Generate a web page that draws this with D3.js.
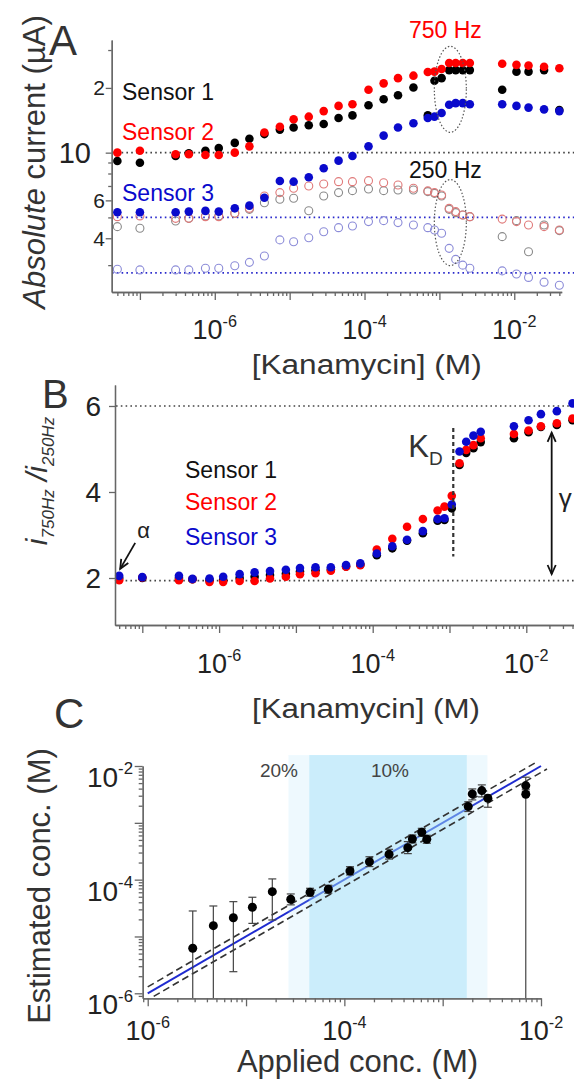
<!DOCTYPE html>
<html>
<head>
<meta charset="utf-8">
<script src="https://cdn.jsdelivr.net/npm/d3@7"></script>
<style>
body { margin: 0; background: #fff; }
svg { display: block; font-family: "Liberation Sans", Arial, sans-serif; }
.ax path, .ax line { stroke: #666; stroke-width: 1.3; }
</style>
</head>
<body>
<div id="fig"></div>
<script>
// kanamycin concentrations (M) used in panels A and B
var conc = [5e-8, 1e-7, 3e-7, 4.5e-7, 7.5e-7, 1.13e-6, 1.85e-6, 2.9e-6, 4.6e-6, 7.4e-6, 1.13e-5,
	1.8e-5, 2.85e-5, 4.5e-5, 6.9e-5, 1.13e-4, 1.8e-4, 2.8e-4, 4.5e-4, 7e-4, 8.6e-4, 1.07e-3,
	1.35e-3, 1.65e-3, 2.05e-3, 2.55e-3, 6.9e-3, 1.07e-2, 1.55e-2, 2.5e-2, 4.0e-2];

// panel A: absolute current (uA) at 750 Hz (filled) and 250 Hz (open)
var s1_750 = [9.15, 8.98, 9.65, 9.94, 10.2, 10.5, 11.1, 11.6, 12.2, 12.8, 13.1, 13.4, 13.6, 14.5, 14.9, 16.6,
	17.7, 18.5, 20.1, 14.9, 21.6, 22.2, 24.2, 24.2, 24.2, 24.2, 19.6, 23.8, 23.8, 24.2, 15.8];
var s2_750 = [10.0, 10.2, 9.83, 9.83, 9.76, 9.76, 10.0, 10.7, 12.4, 13.2, 14.3, 14.7, 15.6, 16.5, 16.8, 19.6,
	21.0, 22.2, 22.8, 23.7, 23.8, 24.5, 26.1, 26.1, 26.1, 26.1, 25.9, 25.6, 25.4, 25.1, 24.7];
var s3_750 = [5.28, 5.28, 5.28, 5.32, 5.36, 5.32, 5.51, 5.67, 6.17, 7.38, 7.33, 7.68, 8.46, 9.18, 9.65, 10.7,
	12.0, 13.1, 13.7, 14.5, 14.7, 15.3, 16.7, 17.0, 17.0, 16.8, 16.8, 16.5, 16.2, 15.9, 15.6];
var s1_250 = [4.53, 4.45, 4.81, 4.95, 5.08, 5.08, 5.23, 5.45, 5.85, 6.07, 6.14, 5.37, 6.29, 6.52, 6.66, 6.78,
	6.66, 6.71, 6.71, 6.59, 6.47, 6.29, 5.45, 5.26, 5.13, 5.04, 4.07, 4.83, 3.46, 4.61, 4.34];
var s2_250 = [5.04, 5.08, 4.95, 4.95, 5.04, 5.04, 5.23, 5.51, 6.29, 6.52, 6.83, 7.00, 7.15, 7.33, 7.33, 7.41,
	7.25, 7.07, 6.83, 6.64, 6.52, 6.36, 5.51, 5.32, 5.13, 5.04, 4.91, 4.78, 4.61, 4.53, 4.37];
var s3_250 = [2.87, 2.85, 2.85, 2.85, 2.90, 2.90, 2.98, 3.09, 3.31, 3.93, 3.85, 4.02, 4.29, 4.48, 4.56, 4.78,
	4.83, 4.73, 4.61, 4.48, 4.37, 4.22, 3.59, 3.19, 3.00, 2.90, 2.82, 2.73, 2.63, 2.50, 2.42];
var aRefLines = [10, 5.0, 2.76];

// panel B: ratio i750 / i250
var r1 = [2.0, 2.0, 2.0, 1.97, 1.95, 1.96, 2.0, 2.03, 2.07, 2.1, 2.15, 2.18, 2.2, 2.27, 2.31, 2.53,
	2.69, 2.87, 3.04, 3.33, 3.35, 3.62, 4.63, 4.91, 5.02, 5.16, 5.25, 5.39, 5.51, 5.56, 5.67];
var r2 = [1.95, 2.01, 1.95, 1.97, 1.91, 1.91, 1.93, 1.93, 1.99, 2.03, 2.09, 2.11, 2.17, 2.26, 2.30, 2.66,
	2.91, 3.19, 3.37, 3.57, 3.66, 3.91, 4.67, 4.98, 5.09, 5.25, 5.35, 5.43, 5.53, 5.60, 5.71];
var r3 = [2.05, 2.02, 2.05, 1.98, 1.99, 2.03, 2.09, 2.13, 2.16, 2.19, 2.23, 2.25, 2.25, 2.30, 2.34, 2.57,
	2.74, 2.89, 3.09, 3.37, 3.39, 3.71, 4.94, 5.17, 5.31, 5.40, 5.53, 5.67, 5.81, 5.88, 6.06];
var bRefLines = [6, 1.94];
var kd = 1.12e-3;

// panel C: applied vs estimated concentration (M)
var applied = [2.87e-6, 4.65e-6, 7.43e-6, 1.16e-5, 1.85e-5, 2.85e-5, 4.48e-5, 6.87e-5, 1.14e-4, 1.80e-4, 2.85e-4,
	4.42e-4, 4.92e-4, 6.13e-4, 6.89e-4, 1.82e-3, 2.0e-3, 2.5e-3, 2.88e-3, 7.0e-3, 7.0e-3];
var estimated = [6.2e-6, 1.55e-5, 2.14e-5, 3.27e-5, 6.15e-5, 4.52e-5, 6.0e-5, 6.78e-5, 1.42e-4, 2.07e-4, 2.80e-4,
	3.66e-4, 5.2e-4, 6.82e-4, 5.14e-4, 1.93e-3, 3.23e-3, 3.69e-3, 2.71e-3, 4.52e-3, 3.19e-3];
var errHi = [2.81e-5, 3.44e-5, 4.1e-5, 4.9e-5, 1.03e-4, 5.6e-5, 7.05e-5, 7.97e-5, 1.69e-4, 2.53e-4, 3.42e-4,
	4.67e-4, 6.1e-4, 8.0e-4, 6.04e-4, 2.35e-3, 3.95e-3, 4.65e-3, 3.1e-3, 6.35e-3, 3.6e-3];
var errLo = [5e-7, 5e-7, 2.4e-6, 1.7e-5, 1.95e-5, 3.6e-5, 5.1e-5, 5.77e-5, 1.21e-4, 1.7e-4, 2.3e-4,
	2.87e-4, 4.43e-4, 5.8e-4, 4.37e-4, 1.58e-3, 2.53e-3, 2.86e-3, 1.88e-3, 3.9e-3, 5e-7];
var band20 = [2.7e-5, 2.85e-3];
var band10 = [4.4e-5, 1.76e-3];
var fitRange = [1e-6, 1e-2];
var fitFactor = 1.3;

var BLACK = "#000", RED = "#ff0000", BLUE = "#0a0acc";
var svg = d3.select("#fig").append("svg").attr("width", 574).attr("height", 1083);

// scales
var xA = d3.scaleLog().domain([4.2e-8, 4.3e-2]).range([111.7, 561.7]);
var yA = d3.scaleLog().domain([2.25, 33.4]).range([292, 40]);
var xB = d3.scaleLog().domain([4.41e-8, 4.18e-2]).range([115, 574]);
var yB = d3.scaleLinear().domain([0.907, 6.488]).range([625, 385]);
var xC = d3.scaleLog().domain([Math.pow(10, -6.051), 1e-2]).range([142.7, 541]);
var yC = d3.scaleLog().domain([Math.pow(10, -6.088), 1e-2]).range([998.3, 766]);

function isDecade(v) { return Math.abs(Math.log10(v) - Math.round(Math.log10(v))) < 1e-6; }

// draw an axis with long and short ticks
function ticks(scale, orient, pos, majors, minors, majLen, minLen) {
	var mk = orient === "bottom" ? d3.axisBottom : d3.axisLeft;
	var g = svg.append("g").attr("class", "ax")
		.attr("transform", orient === "bottom" ? "translate(0," + pos + ")" : "translate(" + pos + ",0)");
	g.append("g").call(mk(scale).tickValues(minors).tickSize(minLen).tickSizeOuter(0).tickFormat(""));
	g.append("g").call(mk(scale).tickValues(majors).tickSize(majLen).tickSizeOuter(0).tickFormat(""));
}
function logTicks(scale, orient, pos) {
	var all = scale.ticks();
	ticks(scale, orient, pos, all.filter(isDecade), all.filter(function(v){ return !isDecade(v); }), 8, 4);
}

// 10^n labels
function powLabel(x, y, exp, anchor, size) {
	var t = svg.append("text").attr("x", x).attr("y", y).attr("text-anchor", anchor)
		.style("font-size", size + "px").style("fill", "#222");
	t.append("tspan").text("10");
	t.append("tspan").attr("dy", -size * 0.45).style("font-size", (size * 0.6) + "px").text("-" + exp);
}

function dots(xs, ys, xs_, ys_, color, open) {
	svg.append("g").selectAll("circle")
		.data(d3.zip(xs, ys))
		.join("circle")
		.attr("cx", function(d){ return xs_(d[0]); })
		.attr("cy", function(d){ return ys_(d[1]); })
		.attr("r", open ? 4.0 : 4.3)
		.attr("fill", open ? "none" : color)
		.attr("stroke", open ? color : "none")
		.attr("stroke-width", 1.1);
}

function hline(y, x1, x2, color) {
	svg.append("line").attr("x1", x1).attr("x2", x2).attr("y1", y).attr("y2", y)
		.attr("stroke", color).attr("stroke-width", 1.6).attr("stroke-dasharray", "1.6,3.2");
}

function txt(x, y, s, size, color, anchor) {
	return svg.append("text").attr("x", x).attr("y", y).text(s)
		.attr("text-anchor", anchor || "start")
		.style("font-size", size + "px").style("fill", color || "#222");
}

// arrow with V heads
function arrow(x1, y1, x2, y2, both) {
	svg.append("line").attr("x1", x1).attr("y1", y1).attr("x2", x2).attr("y2", y2)
		.attr("stroke", "#111").attr("stroke-width", 1.8);
	function head(xa, ya, xb, yb) {
		var a = Math.atan2(yb - ya, xb - xa), L = 10, w = 0.42;
		svg.append("path")
			.attr("d", "M" + (xb - L * Math.cos(a - w)) + "," + (yb - L * Math.sin(a - w)) +
				"L" + xb + "," + yb + "L" + (xb - L * Math.cos(a + w)) + "," + (yb - L * Math.sin(a + w)))
			.attr("fill", "none").attr("stroke", "#111").attr("stroke-width", 1.8);
	}
	head(x1, y1, x2, y2);
	if (both) head(x2, y2, x1, y1);
}

// ===================== Panel A =====================
aRefLines.forEach(function(v, i) { hline(yA(v), 112, 574, i === 0 ? "#444" : "#2a2acc"); });

dots(conc, s1_250, xA, yA, "#8a8a8a", true);
dots(conc, s2_250, xA, yA, "#e07a7a", true);
dots(conc, s3_250, xA, yA, "#8c8cd8", true);
dots(conc, s1_750, xA, yA, BLACK, false);
dots(conc, s2_750, xA, yA, RED, false);
dots(conc, s3_750, xA, yA, BLUE, false);

logTicks(xA, "bottom", 292);
ticks(yA, "left", 111.7, [4, 6, 10, 20], [3, 5, 7, 8, 9, 30], 6, 3.5);
[-6, -4, -2].forEach(function(e) { powLabel(xA(Math.pow(10, e)), 339, -e, "middle", 27); });
[[20, "2"], [6, "6"], [4, "4"]].forEach(function(d) {
	txt(105, yA(d[0]) + 7.5, d[1], 21, "#222", "end");
});
txt(91, yA(10) + 10, "10", 29, "#222", "end");

// ellipses around the jump
var ellX = 1.4e-3;
[[19.7, "750 Hz", RED, -51.6], [4.73, "250 Hz", "#111", -44.4]].forEach(function(d) {
	svg.append("ellipse").attr("cx", xA(ellX)).attr("cy", yA(d[0])).attr("rx", 16).attr("ry", 43)
		.attr("fill", "none").attr("stroke", "#555").attr("stroke-width", 1.2).attr("stroke-dasharray", "1.5,2");
	txt(xA(ellX) - 5, yA(d[0]) + d[3], d[1], 23, d[2], "middle");
});

txt(122, 99.5, "Sensor 1", 23, "#111");
txt(122, 139.5, "Sensor 2", 23, RED);
txt(122, 201, "Sensor 3", 23, BLUE);

var aTitle = svg.append("text").attr("transform", "translate(45,162) rotate(-90)")
	.attr("text-anchor", "middle").style("font-size", "31px").style("fill", "#333");
aTitle.append("tspan").style("font-style", "italic").text("Absolute");
aTitle.append("tspan").text(" current (\u00b5A)");
txt(366.7, 374, "[Kanamycin] (M)", 27, "#333", "middle").attr("textLength", 230).attr("lengthAdjust", "spacingAndGlyphs");
txt(49, 55, "A", 42, "#333");

// ===================== Panel B =====================
bRefLines.forEach(function(v) { hline(yB(v), 116, 574, "#444"); });

dots(conc, r1, xB, yB, BLACK, false);
dots(conc, r2, xB, yB, RED, false);
dots(conc, r3, xB, yB, BLUE, false);

logTicks(xB, "bottom", 625);
ticks(yB, "left", 115, [2, 4, 6], [], 6, 0);
[-6, -4, -2].forEach(function(e) { powLabel(xB(Math.pow(10, e)), 673, -e, "middle", 27); });
[2, 4, 6].forEach(function(v) { txt(101, yB(v) + 10, String(v), 28, "#222", "end"); });

// K_D marker
svg.append("line").attr("x1", xB(kd)).attr("x2", xB(kd)).attr("y1", yB(5.49)).attr("y2", yB(2.50))
	.attr("stroke", "#333").attr("stroke-width", 2.2).attr("stroke-dasharray", "4,3");
var kdt = txt(xB(kd) - 45, 457, "K", 31, "#333");
kdt.append("tspan").attr("dy", 8).style("font-size", "19px").text("D");

// gamma range arrow
var gx = xB(2.14e-2);
arrow(gx, yB(5.38), gx, yB(2.09), true);
txt(gx + 7, 507, "\u03b3", 26, "#222");

// alpha arrow to first point
var ax = xB(conc[0]) + 1, ay = yB(r3[0]) - 7;
arrow(ax + 15, ay - 26, ax, ay, false);
txt(ax + 17, ay - 31, "\u03b1", 22, "#222");

txt(185, 478, "Sensor 1", 23, "#111");
txt(185, 510, "Sensor 2", 23, RED);
txt(185, 545, "Sensor 3", 23, BLUE);

var bTitle = svg.append("text").attr("transform", "translate(47,481) rotate(-90)")
	.attr("text-anchor", "middle").style("font-style", "italic").style("fill", "#333").style("font-size", "30px");
bTitle.append("tspan").text("i");
bTitle.append("tspan").attr("dy", 7).style("font-size", "17px").text("750Hz");
bTitle.append("tspan").attr("dy", -7).text(" /i");
bTitle.append("tspan").attr("dy", 7).style("font-size", "17px").text("250Hz");
txt(366, 718, "[Kanamycin] (M)", 27, "#333", "middle").attr("textLength", 228).attr("lengthAdjust", "spacingAndGlyphs");
txt(42, 408, "B", 40, "#333");

// ===================== Panel C =====================
var lineC = d3.line().x(function(d){ return xC(d[0]); }).y(function(d){ return yC(d[1]); });

svg.append("path").datum(fitRange.map(function(v){ return [v, v]; }))
	.attr("d", lineC).attr("fill", "none").attr("stroke", "#1f2bd0").attr("stroke-width", 2);

var bandTop = yC(1.56e-2);
svg.append("rect").attr("x", xC(band20[0])).attr("width", xC(band20[1]) - xC(band20[0]))
	.attr("y", bandTop).attr("height", 998.3 - bandTop)
	.attr("fill", "rgb(155,221,247)").attr("fill-opacity", 0.17);
svg.append("rect").attr("x", xC(band10[0])).attr("width", xC(band10[1]) - xC(band10[0]))
	.attr("y", bandTop).attr("height", 998.3 - bandTop)
	.attr("fill", "rgb(155,221,247)").attr("fill-opacity", 0.42);

// +/- tolerance lines
svg.append("path").datum([[1e-6, 1e-6 * fitFactor], [9e-3, 9e-3 * fitFactor]])
	.attr("d", lineC).attr("fill", "none").attr("stroke", "#333").attr("stroke-width", 1.6).attr("stroke-dasharray", "7,4");
svg.append("path").datum([[1.15e-6, 1.15e-6 / fitFactor], [1.15e-2, 1.15e-2 / fitFactor]])
	.attr("d", lineC).attr("fill", "none").attr("stroke", "#333").attr("stroke-width", 1.6).attr("stroke-dasharray", "7,4");

txt(279, 776.5, "20%", 19, "#444", "middle");
txt(390, 776.5, "10%", 19, "#444", "middle");

// error bars
var yBottom = yC.range()[0];
applied.forEach(function(a, i) {
	var x = xC(a), yt = yC(errHi[i]), yb = Math.min(yC(errLo[i]), yBottom);
	svg.append("line").attr("x1", x).attr("x2", x).attr("y1", yt).attr("y2", yb)
		.attr("stroke", "#444").attr("stroke-width", 1.2);
	svg.append("line").attr("x1", x - 4).attr("x2", x + 4).attr("y1", yt).attr("y2", yt)
		.attr("stroke", "#444").attr("stroke-width", 1.2);
	if (yC(errLo[i]) < yBottom)
		svg.append("line").attr("x1", x - 4).attr("x2", x + 4).attr("y1", yb).attr("y2", yb)
			.attr("stroke", "#444").attr("stroke-width", 1.2);
});
svg.append("g").selectAll("circle").data(d3.zip(applied, estimated)).join("circle")
	.attr("cx", function(d){ return xC(d[0]); })
	.attr("cy", function(d){ return yC(d[1]); })
	.attr("r", 4.5).attr("fill", "#000");

logTicks(xC, "bottom", 998.3);
logTicks(yC, "left", 142.7);
[-6, -4, -2].forEach(function(e) { powLabel(xC(Math.pow(10, e)), 1040, -e, "middle", 27); });
[-6, -4, -2].forEach(function(e) { powLabel(133, yC(Math.pow(10, e)) + 21, -e, "end", 28); });

svg.append("text").attr("transform", "translate(50,886) rotate(-90)").attr("text-anchor", "middle")
	.style("font-size", "31px").style("fill", "#333").text("Estimated conc. (M)");
txt(357.5, 1072, "Applied conc. (M)", 31, "#333", "middle");
txt(54, 728, "C", 42, "#333");
</script>
</body>
</html>
